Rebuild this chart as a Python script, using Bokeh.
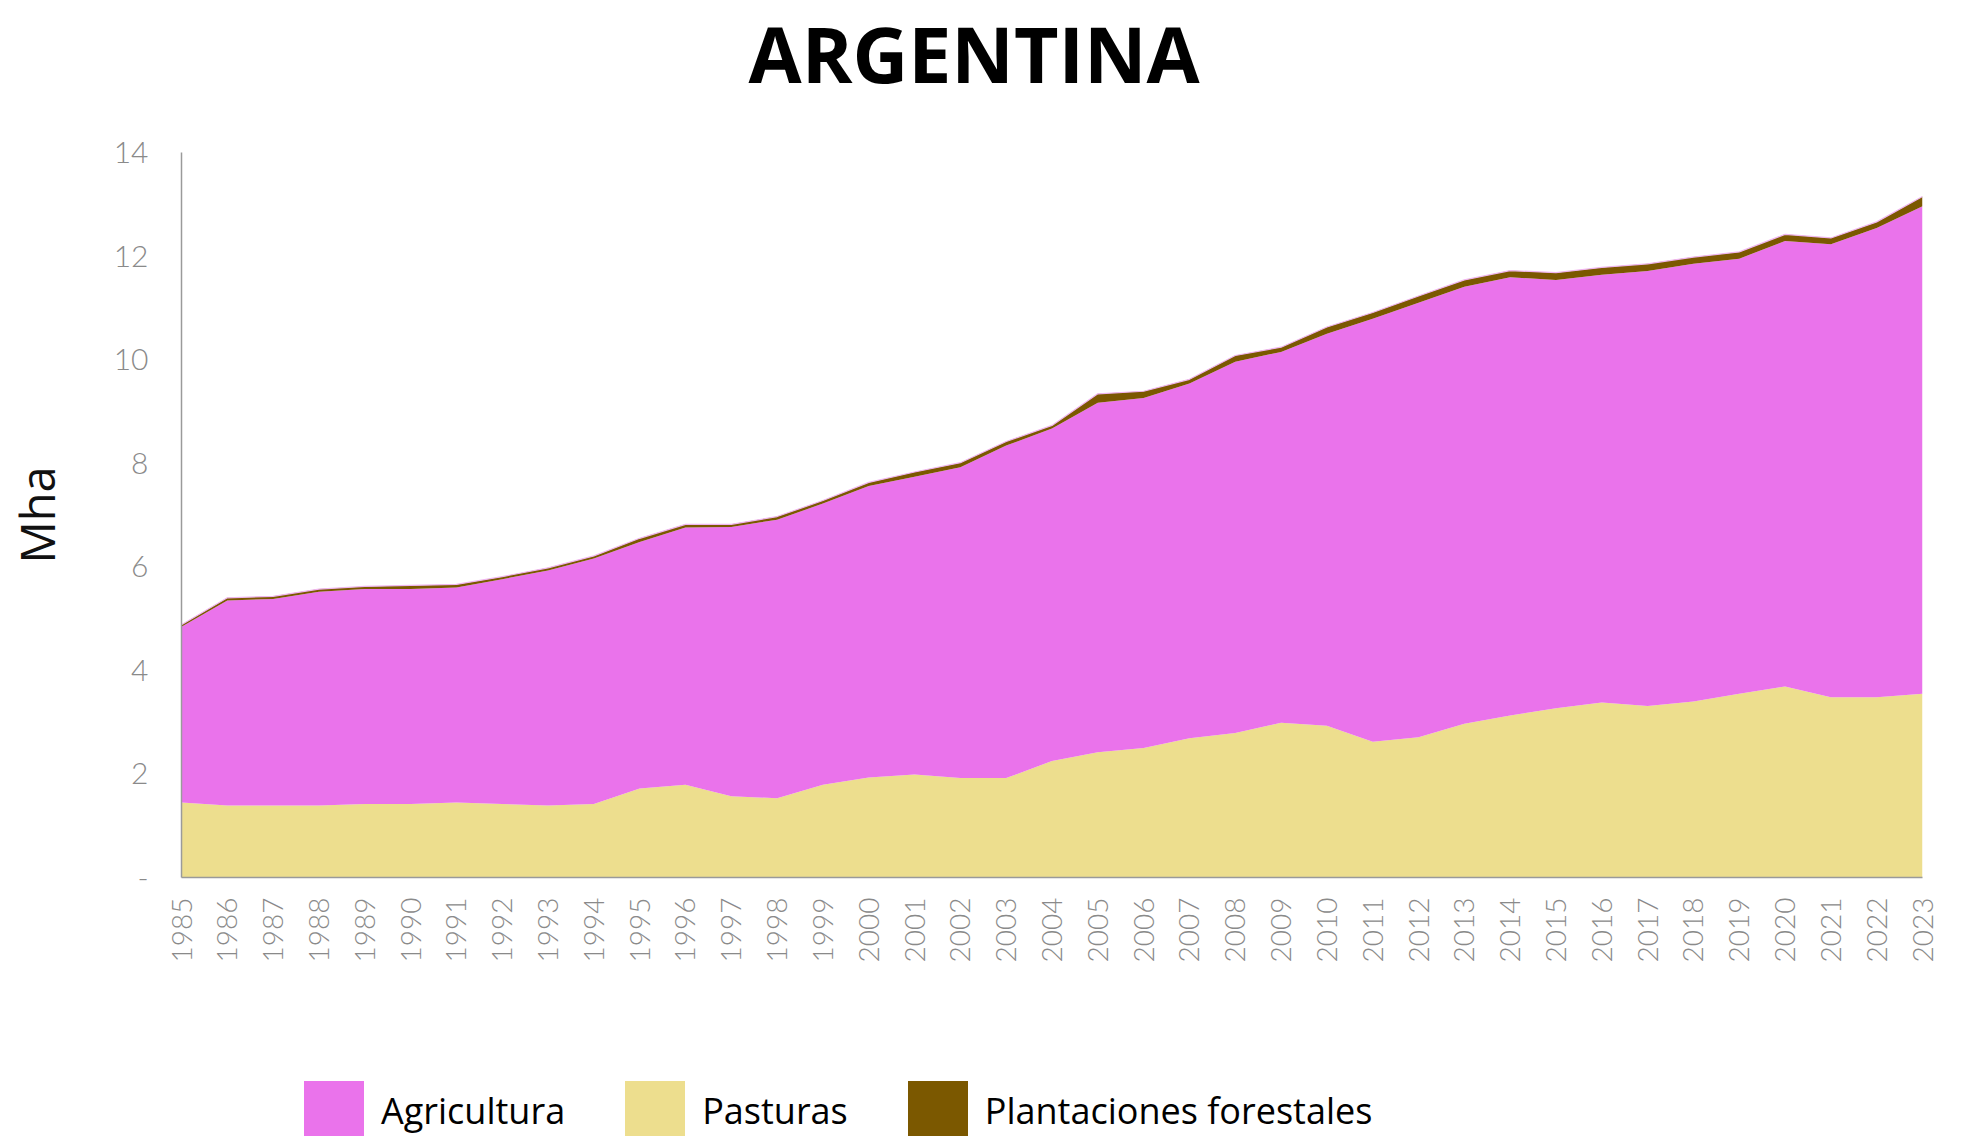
import math
from bokeh.plotting import figure
from bokeh.layouts import column
from bokeh.models import ColumnDataSource, Legend, LegendItem, Title, FixedTicker
from bokeh.embed import file_html
from bokeh.resources import INLINE

years = list(range(1985, 2024))

pasturas = [1.45, 1.39, 1.39, 1.39, 1.42, 1.42, 1.45, 1.42, 1.39, 1.42,
            1.72, 1.79, 1.57, 1.53, 1.79, 1.93, 1.99, 1.92, 1.92, 2.25,
            2.42, 2.50, 2.69, 2.79, 2.99, 2.93, 2.62, 2.71, 2.97, 3.13,
            3.27, 3.38, 3.31, 3.40, 3.55, 3.69, 3.48, 3.48, 3.55]

agricultura = [3.39, 3.96, 3.99, 4.13, 4.15, 4.15, 4.15, 4.34, 4.54, 4.74,
               4.76, 4.97, 5.20, 5.38, 5.43, 5.63, 5.75, 6.00, 6.42, 6.42,
               6.75, 6.76, 6.85, 7.17, 7.16, 7.57, 8.17, 8.39, 8.44, 8.46,
               8.27, 8.26, 8.40, 8.45, 8.40, 8.60, 8.75, 9.06, 9.41]

plantaciones = [0.04, 0.05, 0.05, 0.05, 0.05, 0.07, 0.06, 0.05, 0.05, 0.05,
                0.07, 0.06, 0.05, 0.06, 0.06, 0.07, 0.09, 0.09, 0.08, 0.06,
                0.17, 0.13, 0.08, 0.12, 0.09, 0.13, 0.12, 0.13, 0.13, 0.13,
                0.14, 0.14, 0.14, 0.13, 0.13, 0.13, 0.12, 0.12, 0.19]

y_ticks = [0, 2, 4, 6, 8, 10, 12, 14]
y_tick_overrides = {0: "-"}

legend_labels = ["Agricultura", "Pasturas", "Plantaciones forestales"]
colors = {"Pasturas": "#EDDE8E", "Agricultura": "#EA73EB", "Plantaciones": "#7B5800"}

W = 1960
TITLE_H = 110
MAIN_H = 950
LEG_H = 76

total = [a + b + c for a, b, c in zip(pasturas, agricultura, plantaciones)]
src = ColumnDataSource(dict(year=years, Pasturas=pasturas, Agricultura=agricultura,
                            Plantaciones=plantaciones, total=total))
stack = ["Pasturas", "Agricultura", "Plantaciones"]


def strip(height):
    f = figure(width=W, height=height, x_range=(0, 1), y_range=(0, 1),
               output_backend="svg", toolbar_location=None,
               x_axis_location=None, y_axis_location=None, frame_align=False,
               min_border=0, min_border_left=0, min_border_right=0,
               min_border_top=0, min_border_bottom=0)
    f.outline_line_color = None
    f.grid.visible = False
    return f


# ---------------- title strip ----------------
pt = strip(TITLE_H)
pt.title = Title(text="ARGENTINA", align="left", offset=748, vertical_align="top",
                 standoff=0, text_font="Open Sans", text_font_size="77px",
                 text_font_style="bold", text_color="#000000")

# ---------------- main chart ----------------
p = figure(width=W, height=MAIN_H, x_range=(1985, 2023), y_range=(0, 14),
           output_backend="svg", toolbar_location=None, frame_align=False,
           min_border_left=181, min_border_right=38,
           min_border_top=152 - TITLE_H, min_border_bottom=MAIN_H - (877 - TITLE_H))
p.title = None
p.outline_line_color = None
p.grid.visible = False

rs = p.varea_stack(stack, x="year", source=src, color=[colors[s] for s in stack])
p.line(x="year", y="total", source=src, line_color="#F0B6F0", line_width=1.2)

tick_font = "Lato Light"
p.xaxis.ticker = FixedTicker(ticks=years)
p.xaxis.major_label_orientation = math.pi / 2
p.xaxis.major_label_text_font_size = "28px"
p.xaxis.major_label_text_font = tick_font
p.xaxis.major_label_text_color = "#8a8a8a"
p.xaxis.major_label_standoff = 20
p.xaxis.axis_line_color = "#9a9a9a"
p.xaxis.axis_line_width = 1.5
p.xaxis.major_tick_line_color = None
p.xaxis.minor_tick_line_color = None
p.xaxis.major_tick_out = 0
p.xaxis.major_tick_in = 0

p.yaxis.ticker = FixedTicker(ticks=y_ticks)
p.yaxis.major_label_overrides = y_tick_overrides
p.yaxis.major_label_text_font_size = "30px"
p.yaxis.major_label_text_font = tick_font
p.yaxis.major_label_text_color = "#8a8a8a"
p.yaxis.major_label_standoff = 33
p.yaxis.axis_line_color = "#9a9a9a"
p.yaxis.axis_line_width = 1.5
p.yaxis.major_tick_line_color = None
p.yaxis.minor_tick_line_color = None
p.yaxis.major_tick_out = 0
p.yaxis.major_tick_in = 0
p.yaxis.axis_label = "Mha"
p.yaxis.axis_label_text_font = "Open Sans"
p.yaxis.axis_label_text_font_size = "47px"
p.yaxis.axis_label_text_font_style = "normal"
p.yaxis.axis_label_text_color = "#111111"
p.yaxis.axis_label_standoff = 42

# ---------------- legend strip ----------------
pl = strip(LEG_H)
pl.title = None
# same stacked series, outside this strip's visible range: used only as legend swatches
lrs = pl.varea_stack(stack, x="year", source=src, color=[colors[s] for s in stack])
legend_renderers = [lrs[1], lrs[0], lrs[2]]
legend = Legend(items=[LegendItem(label=lab, renderers=[r])
                       for lab, r in zip(legend_labels, legend_renderers)],
                location=(296, -12), orientation="horizontal",
                glyph_width=75, glyph_height=75, label_standoff=10, spacing=52,
                padding=0, margin=0, border_line_color=None, background_fill_alpha=0,
                label_text_font="Open Sans", label_text_font_size="36px",
                label_text_color="#000000")
pl.add_layout(legend)

layout = column(pt, p, pl, spacing=0)
open("out.html", "w").write(file_html(layout, INLINE))
